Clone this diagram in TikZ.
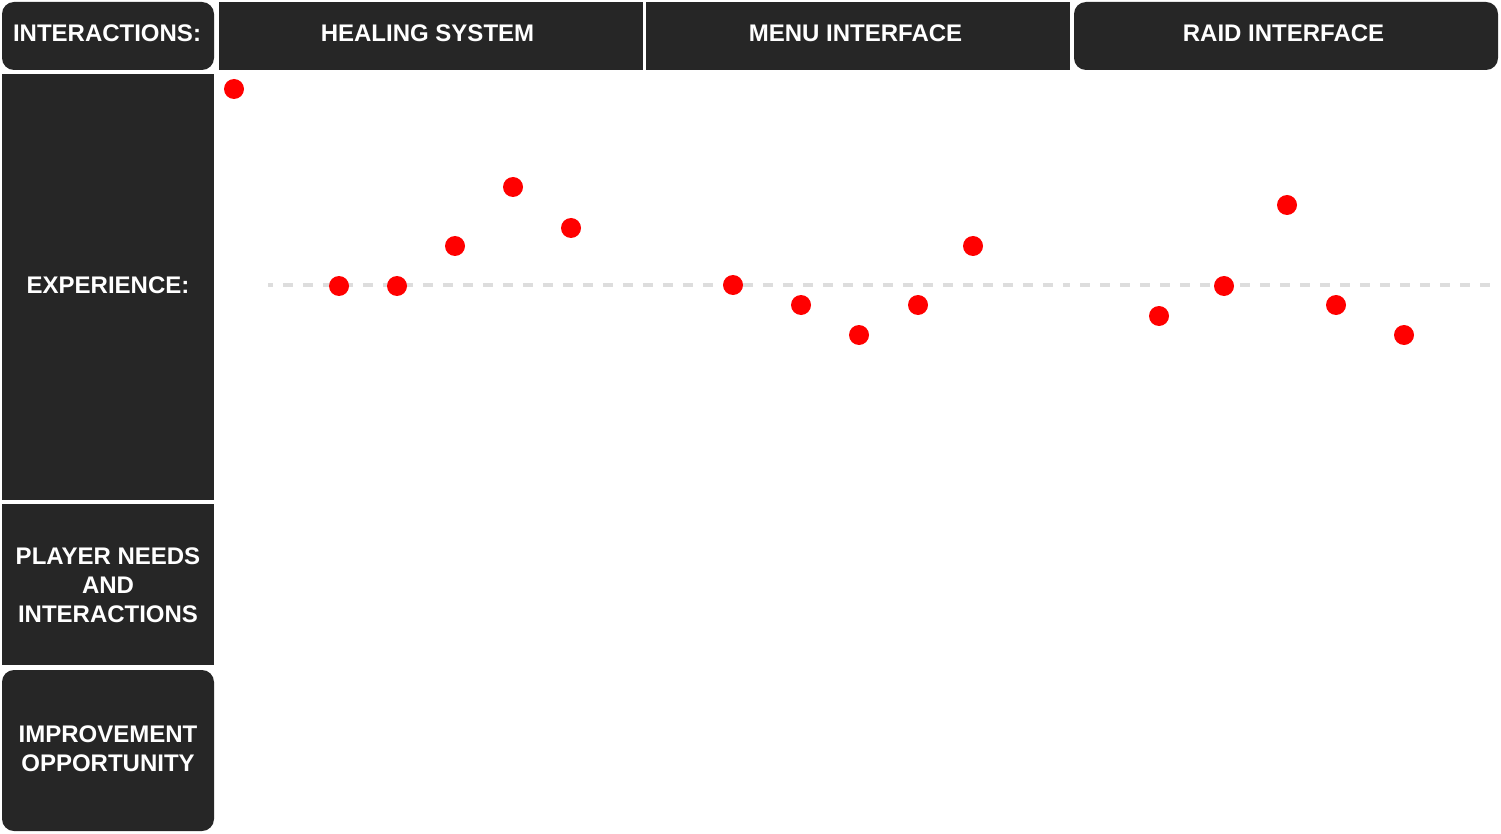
\documentclass[tikz,border=0pt]{standalone}
\usepackage{fontspec}
\setmainfont{Liberation Sans}
\definecolor{panelgray}{HTML}{262626}
\definecolor{dotred}{HTML}{FF0000}
\definecolor{baseline}{HTML}{DDDDDD}
\begin{document}
\begin{tikzpicture}[x=1pt,y=-1pt,
  panel/.style={fill=panelgray, draw=none, inner sep=0pt},
  title/.style={text=white, inner sep=0pt, align=center,
    font=\bfseries\fontsize{24}{29}\selectfont},
  head/.style={panel, minimum height=68pt},
  side/.style={panel, minimum width=212pt},
  dot/.style={circle, fill=dotred, draw=none, minimum size=20pt, inner sep=0pt},
  neutral/.style={draw=baseline, line width=4pt, dash pattern=on 10pt off 10pt}]
\useasboundingbox (0,0) rectangle (1501,834);

% header row
\node[head, rounded corners=12pt, minimum width=212pt] (inter) at (108,36) {};
\node[head, minimum width=424pt] (heal) at (430.5,36) {};
\node[head, minimum width=424pt] (menu) at (858,36) {};
\node[head, rounded corners=12pt, minimum width=424pt] (raid) at (1286,36) {};
\node[title] (intert) at (107,33) {INTERACTIONS:};
\node[title] (healt) at (427.5,33) {HEALING SYSTEM};
\node[title] (menut) at (855.5,33) {MENU INTERFACE};
\node[title] (raidt) at (1283.5,33) {RAID INTERFACE};

% row labels
\node[side, minimum height=426pt] (exp) at (108,287) {};
\node[side, minimum height=161pt] (needs) at (108,584.5) {};
\node[side, rounded corners=12pt, minimum height=161pt] (improve) at (108,750.5) {};
\node[title] (expt) at (108,285) {EXPERIENCE:};
\node[title] (needst) at (108,585) {PLAYER NEEDS\\AND\\INTERACTIONS};
\node[title] (improvet) at (108,749) {IMPROVEMENT\\OPPORTUNITY};

% neutral experience line
\coordinate (n0) at (268,285);
\coordinate (n1) at (1068,285);
\coordinate (n2) at (1490,285);
\draw[neutral, dash phase=5pt] (n0) -- (n1);
\draw[neutral, dash phase=8pt] (n1) -- (n2);

% experience points
\node[dot] (d1) at (234,89) {};
\node[dot] (d2) at (339,286) {};
\node[dot] (d3) at (397,286) {};
\node[dot] (d4) at (455,246) {};
\node[dot] (d5) at (513,187) {};
\node[dot] (d6) at (571,228) {};
\node[dot] (d7) at (733,285) {};
\node[dot] (d8) at (801,305) {};
\node[dot] (d9) at (859,335) {};
\node[dot] (d10) at (918,305) {};
\node[dot] (d11) at (973,246) {};
\node[dot] (d12) at (1159,316) {};
\node[dot] (d13) at (1224,286) {};
\node[dot] (d14) at (1287,205) {};
\node[dot] (d15) at (1336,305) {};
\node[dot] (d16) at (1404,335) {};
\end{tikzpicture}
\end{document}
